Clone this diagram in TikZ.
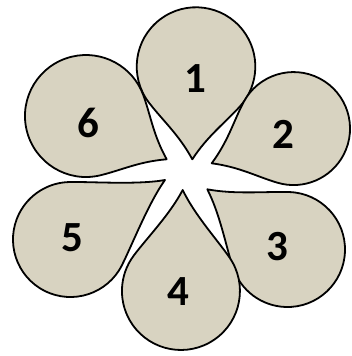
\documentclass[tikz,border=0pt]{standalone}
\usepackage{fontspec}
\setsansfont{Carlito}
\definecolor{petalfill}{RGB}{216,211,193}
\tikzset{petal/.style={draw=black,line width=1.8pt,fill=petalfill,line join=round},
  num/.style={font=\sffamily\bfseries\fontsize{43}{43}\selectfont,inner sep=0pt}}
% #1 tip, #2 direction, #3 tip to centre, #4 radius
\newcommand{\petal}[4]{%
  \pgfmathsetmacro{\ta}{180-acos(#4/#3)}%
  \pgfmathsetmacro{\tx}{#3+#4*cos(\ta)}%
  \pgfmathsetmacro{\ty}{#4*sin(\ta)}%
  \draw[petal,shift={#1},rotate=#2] (0,0)
    .. controls +(\ta-99:28) and +(\ta+90:22) .. (\tx,\ty)
    arc[start angle=\ta,end angle=-\ta,radius=#4]
    .. controls +(-\ta-90:22) and +(-\ta+99:28) .. (0,0) -- cycle;}

\begin{document}
\begin{tikzpicture}[x=1pt,y=1pt]
  \useasboundingbox (0,0) rectangle (351,356);
  \petal{(192.3,196.7)}{87.7}{92.8}{59.3}
  \petal{(211.7,192.7)}{23}{88.9}{56.5}
  \petal{(207.3,166.7)}{-36.9}{100.3}{57.5}
  \petal{(182.7,166)}{-91}{101}{59}
  \petal{(165,176)}{-147.8}{111.7}{57.5}
  \petal{(166.7,196.7)}{151.8}{91.6}{61}
  \node[num] (n1) at (195,277) {1};
  \node[num] (n2) at (283,222) {2};
  \node[num] (n3) at (277,109) {3};
  \node[num] (n4) at (178,64) {4};
  \node[num] (n5) at (72,118) {5};
  \node[num] (n6) at (88,233) {6};
\end{tikzpicture}
\end{document}
